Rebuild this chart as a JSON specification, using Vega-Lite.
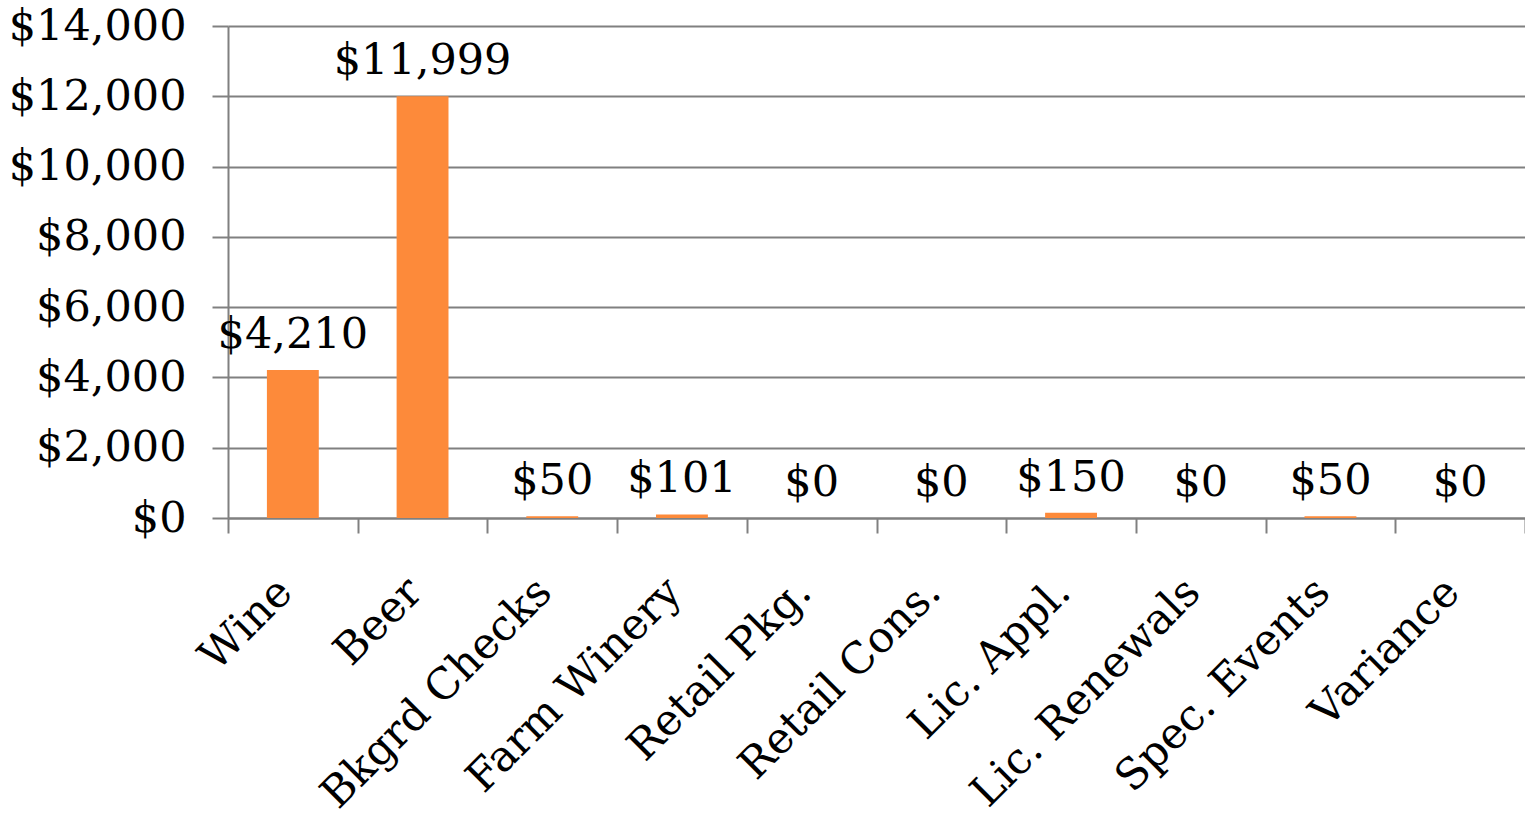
{
  "$schema": "https://vega.github.io/schema/vega-lite/v6.json",
  "autosize": "none",
  "width": 1297,
  "height": 492,
  "padding": {"left": 228, "top": 26, "right": 0, "bottom": 304},
  "background": "white",
  "data": {"values": [
    {"category": "Wine", "amount": 4210},
    {"category": "Beer", "amount": 11999},
    {"category": "Bkgrd Checks", "amount": 50},
    {"category": "Farm Winery", "amount": 101},
    {"category": "Retail Pkg.", "amount": 0},
    {"category": "Retail Cons.", "amount": 0},
    {"category": "Lic. Appl.", "amount": 150},
    {"category": "Lic. Renewals", "amount": 0},
    {"category": "Spec. Events", "amount": 50},
    {"category": "Variance", "amount": 0}
  ]},
  "config": {
    "view": {"stroke": null},
    "font": "DejaVu Serif"
  },
  "encoding": {
    "x": {
      "field": "category", "type": "nominal", "sort": null,
      "scale": {"paddingInner": 0, "paddingOuter": 0},
      "axis": {
        "title": null, "labelAngle": -45, "labelAlign": "right", "labelBaseline": "middle",
        "labelFont": "DejaVu Serif", "labelFontSize": 43, "labelColor": "black",
        "tickBand": "extent", "tickSize": 15, "tickColor": "#808080", "tickWidth": 2,
        "domainColor": "#808080", "domainWidth": 2, "labelPadding": 52, "labelOffset": -8,
        "labelOverlap": false, "labelLimit": 0
      }
    },
    "y": {
      "field": "amount", "type": "quantitative",
      "scale": {"domain": [0, 14000], "nice": false},
      "axis": {
        "title": null, "values": [0, 2000, 4000, 6000, 8000, 10000, 12000, 14000],
        "format": "$,.0f", "labelFont": "DejaVu Serif", "labelFontSize": 43, "labelColor": "black",
        "grid": true, "gridColor": "#808080", "gridWidth": 2,
        "tickSize": 16, "tickColor": "#808080", "tickWidth": 2,
        "domainColor": "#808080", "domainWidth": 2, "labelPadding": 26
      }
    }
  },
  "layer": [
    {"mark": {"type": "bar", "color": "#FD8A3A", "width": {"band": 0.4}}},
    {
      "mark": {"type": "text", "baseline": "alphabetic", "dy": -22, "fontSize": 43, "font": "DejaVu Serif", "color": "black"},
      "encoding": {"text": {"field": "amount", "type": "quantitative", "format": "$,.0f"}}
    }
  ]
}
